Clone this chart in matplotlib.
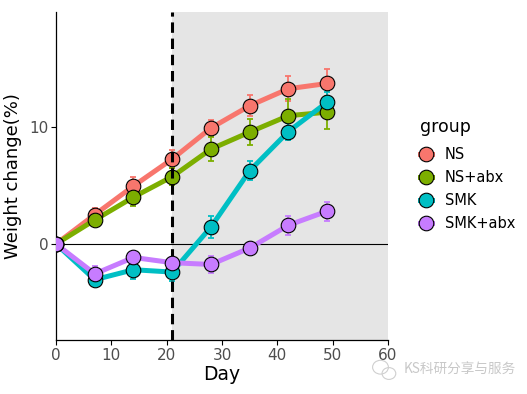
import numpy as np
import matplotlib
matplotlib.use("Agg")
import matplotlib.pyplot as plt
from matplotlib.lines import Line2D
from matplotlib.patches import Ellipse

# data
days = [0, 7, 14, 21, 28, 35, 42, 49]
groups = ["NS", "NS+abx", "SMK", "SMK+abx"]
colors = ["#F8766D", "#7CAE00", "#00BFC4", "#C77CFF"]

ns = [0, 2.5, 4.95, 7.25, 9.9, 11.8, 13.25, 13.7]
ns_err = [0, 0.6, 0.8, 0.75, 0.7, 0.9, 1.05, 1.25]
ns_abx = [0, 2.05, 4.0, 5.75, 8.1, 9.55, 10.95, 11.25]
ns_abx_err = [0, 0.4, 0.75, 0.7, 1.0, 1.1, 1.4, 1.4]
smk = [0, -3.05, -2.2, -2.4, 1.45, 6.25, 9.6, 12.1]
smk_err = [0, 0.5, 0.8, 0.8, 0.9, 0.8, 0.7, 0.9]
smk_abx = [0, -2.55, -1.15, -1.6, -1.75, -0.35, 1.6, 2.8]
smk_abx_err = [0, 0.7, 0.5, 0.5, 0.7, 0.5, 0.8, 0.8]

means = [ns, ns_abx, smk, smk_abx]
errs = [ns_err, ns_abx_err, smk_err, smk_abx_err]

fig = plt.figure(figsize=(5.27, 3.94), dpi=100)
ax = fig.add_axes([0.1063, 0.137, 0.63, 0.8325])

# shaded period after day 21
ax.axvspan(21, 60, color="#E5E5E5", lw=0, zorder=0)
ax.axhline(0, color="black", lw=0.8, zorder=1)
ax.axvline(21, color="black", lw=2.2, ls=(0, (3.4, 1.9)), zorder=6)

for i in range(4):
    ax.plot(days, means[i], color=colors[i], lw=3.6, solid_capstyle="butt", zorder=2)
for i in range(4):
    ax.errorbar(days, means[i], yerr=errs[i], fmt="none", ecolor=colors[i],
                elinewidth=1.3, capsize=2.5, capthick=1.3, zorder=3)
for i in range(4):
    ax.plot(days, means[i], ls="none", marker="o", ms=10.5, mfc=colors[i],
            mec="black", mew=0.8, zorder=4 + i)

ax.set_xlim(0, 60)
ax.set_ylim(-8.2, 19.8)
ax.set_xticks([0, 10, 20, 30, 40, 50, 60])
ax.set_yticks([0, 10])
ax.tick_params(direction="out", length=3.5, width=0.8, labelsize=11,
               labelcolor="#4D4D4D", pad=2)
for s in ["top", "right"]:
    ax.spines[s].set_visible(False)
for s in ["left", "bottom"]:
    ax.spines[s].set_linewidth(0.9)
ax.set_xlabel("Day", fontsize=13.5, labelpad=2)
ax.set_ylabel("Weight change(%)", fontsize=13, labelpad=5)

handles = [Line2D([0], [0], color=colors[i], lw=3.6, marker="o", ms=10.5,
                  mfc=colors[i], mec="black", mew=0.8) for i in range(4)]
leg = fig.legend(handles, groups, loc="upper left", bbox_to_anchor=(0.772, 0.727),
                 frameon=False, fontsize=10.5, title="group", title_fontsize=12.5,
                 handlelength=0.8, handletextpad=0.9, labelspacing=0.55)
leg._legend_box.align = "left"
leg.get_title().set_y(3)

# watermark with a small chat-bubble icon
fig.patches.append(Ellipse((0.722, 0.068), 0.03, 0.035, fill=False, ec="#CFCFCF",
                           lw=0.8, transform=fig.transFigure))
fig.patches.append(Ellipse((0.738, 0.052), 0.026, 0.03, fill=False, ec="#CFCFCF",
                           lw=0.8, transform=fig.transFigure))
fig.text(0.765, 0.061, "KS科研分享与服务", fontsize=9.8, color="#C8C8C8",
         va="center", family=["Noto Sans CJK SC", "DejaVu Sans"])

fig.savefig("out.png", dpi=100)
